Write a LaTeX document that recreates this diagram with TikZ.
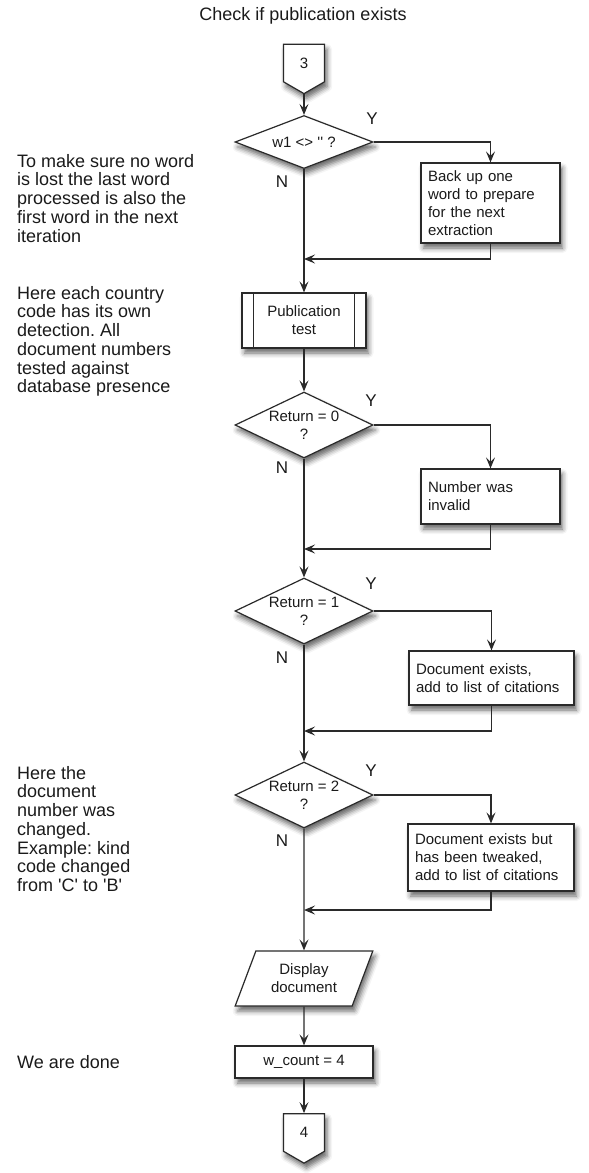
\documentclass[tikz,border=0pt]{standalone}
\usepackage{fontspec}
\setmainfont{Liberation Sans}
\frenchspacing
\usetikzlibrary{arrows.meta,shapes.geometric,shapes.symbols,shadows.blur}

\definecolor{linegray}{HTML}{2A2A2A}
\definecolor{inkgray}{HTML}{1A1A1A}

\tikzset{
  flow/.style={draw=linegray, line width=1.2pt},
  arr/.style={flow, -{Stealth[length=11pt,width=9pt,inset=4.5pt]}},
  softshadow/.style={blur shadow={shadow xshift=2.5pt, shadow yshift=-5pt,
      shadow blur radius=5pt, shadow opacity=60}},
  boxfont/.style={font=\fontsize{15}{18}\selectfont, text=inkgray},
  proc/.style={flow, fill=white, softshadow, rectangle, inner sep=0pt, boxfont},
  action/.style={proc, align=left, inner xsep=7pt},
  decision/.style={flow, fill=white, softshadow, diamond, inner sep=-12pt,
      minimum width=138pt, boxfont, align=center},
  ioshape/.style={flow, fill=white, softshadow, trapezium,
      trapezium left angle=64, trapezium right angle=116, trapezium stretches=true,
      minimum width=138pt, minimum height=55pt, inner sep=0pt, boxfont, align=center},
  offpage/.style={flow, fill=white, softshadow, signal, signal to=south,
      signal pointer angle=120, minimum width=41pt, minimum height=40pt,
      inner sep=0pt, boxfont},
  note/.style={anchor=north west, align=left, inner sep=0pt,
      font=\fontsize{18}{18.7}\selectfont, text=inkgray},
  yn/.style={inner sep=0pt, font=\fontsize{17}{17}\selectfont, text=inkgray},
}

\begin{document}
\begin{tikzpicture}[x=1pt, y=-1pt]
\useasboundingbox (0,0) rectangle (589,1173);

% heading
\node[inner sep=0pt, font=\fontsize{18}{18}\selectfont, text=inkgray] (title) at (303,16) {Check if publication exists};

% main column
\node[offpage] (c3) at (304,63) {3};
\node[decision, minimum height=53pt] (d1) at (304,142) {w1 <> \textquotesingle\textquotesingle{} ?};
\node[action, minimum width=139pt, minimum height=80pt, text width=125pt] (b1) at (490.5,203)
  {Back up one\\word to prepare\\for the next\\extraction};
\coordinate (m1) at (304,259);

\node[proc, minimum width=124pt, minimum height=55pt, align=center] (pub) at (304,320.5) {Publication\\test};
\draw[flow] ([xshift=12pt]pub.north west) -- ([xshift=12pt]pub.south west);
\draw[flow] ([xshift=-12pt]pub.north east) -- ([xshift=-12pt]pub.south east);

\node[decision, minimum height=66pt] (d2) at (304,425) {Return = 0\\?};
\node[action, minimum width=139pt, minimum height=55pt, text width=125pt] (b2) at (490.5,496.5)
  {Number was\\invalid};
\coordinate (m2) at (304,549);

\node[decision, minimum height=66pt] (d3) at (304,611) {Return = 1\\?};
\node[action, minimum width=165pt, minimum height=54pt, text width=151pt] (b3) at (491.5,678)
  {Document exists,\\add to list of citations};
\coordinate (m3) at (304,731);

\node[decision, minimum height=66pt] (d4) at (304,795) {Return = 2\\?};
\node[action, minimum width=166pt, minimum height=67pt, text width=152pt] (b4) at (491,857.5)
  {Document exists but\\has been tweaked,\\add to list of citations};
\coordinate (m4) at (304,910);

\node[ioshape] (disp) at (304,978.5) {Display\\document};
\node[proc, minimum width=138pt, minimum height=32pt] (wc) at (304,1062) {w\_count = 4};
\node[offpage] (c4) at (304,1132.5) {4};

% connectors
\draw[arr] (c3.south) -- (d1.north);
\draw[arr] (d1.east) -| (b1.north);
\draw[arr] (d1.south) -- (pub.north);
\draw[arr] (b1.south) |- (m1);

\draw[arr] (pub.south) -- (d2.north);
\draw[arr] (d2.east) -| (b2.north);
\draw[arr] (b2.south) |- (m2);
\draw[arr] (d2.south) -- (d3.north);

\draw[arr] (d3.east) -| (b3.north);
\draw[arr] (b3.south) |- (m3);
\draw[arr] (d3.south) -- (d4.north);

\draw[arr] (d4.east) -| (b4.north);
\draw[arr] (b4.south) |- (m4);
\draw[arr] (d4.south) -- (disp.north);

\draw[arr] (disp.south) -- (wc.north);
\draw[arr] (wc.south) -- (c4.north);

% branch labels
\node[yn] (y1) at (372,119) {Y};
\node[yn] (n1) at (282,182) {N};
\node[yn] (y2) at (371,401) {Y};
\node[yn] (n2) at (282,468) {N};
\node[yn] (y3) at (371,584) {Y};
\node[yn] (n3) at (282,658) {N};
\node[yn] (y4) at (371,771) {Y};
\node[yn] (n4) at (282,841) {N};

% side notes
\node[note] (t1) at (17,154) {To make sure no word\\is lost the last word\\processed is also the\\first word in the next\\iteration};
\node[note] (t2) at (17,286) {Here each country\\code has its own\\detection. All\\document numbers\\tested against\\database presence};
\node[note] (t3) at (17,766) {Here the\\document\\number was\\changed.\\Example: kind\\code changed\\from \textquotesingle C\textquotesingle{} to \textquotesingle B\textquotesingle};
\node[note, anchor=west] (t4) at (17,1062) {We are done};
\end{tikzpicture}
\end{document}
